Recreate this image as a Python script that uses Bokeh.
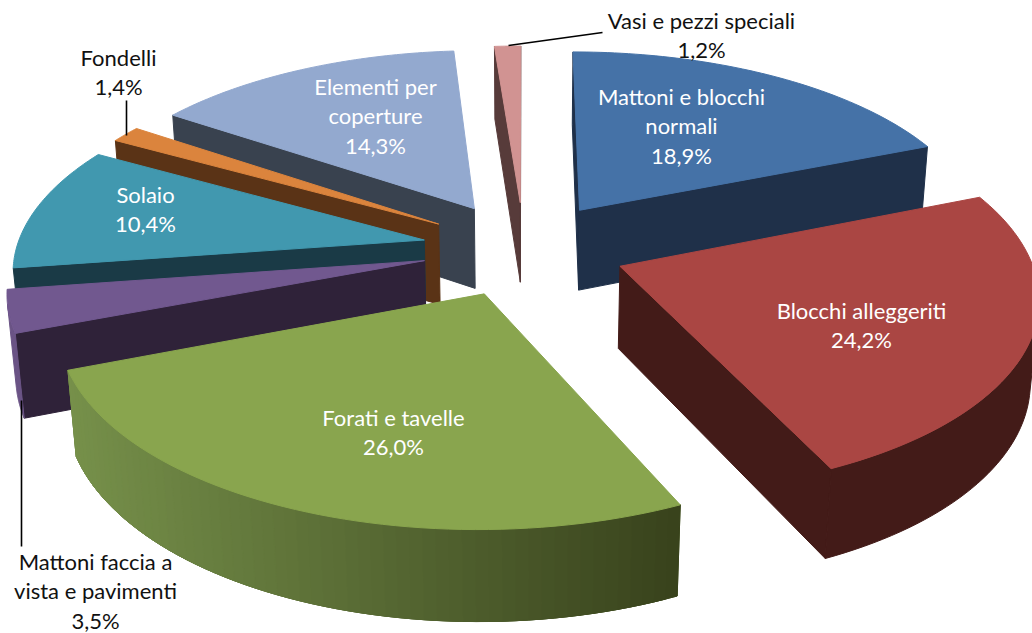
import numpy as np
from bokeh.plotting import figure
from bokeh.models import Range1d
from bokeh.core.properties import value
from bokeh.embed import file_html
from bokeh.resources import INLINE

# ---- data ----
categories = ["Mattoni e blocchi normali", "Blocchi alleggeriti", "Forati e tavelle",
              "Mattoni faccia a vista e pavimenti", "Solaio", "Fondelli",
              "Elementi per coperture", "Vasi e pezzi speciali"]
shares = [18.9, 24.2, 26.0, 3.5, 10.4, 1.4, 14.3, 1.2]
top_colors = ["#4572A7", "#AA4643", "#89A54E", "#71588F", "#4198AF", "#DB843D", "#93A9CF", "#D19392"]
wall_colors = ["#1F3049", "#431B18", "#5A6E35", "#2F2239", "#1A3A46", "#5A3316", "#39424F", "#573B3A"]
rim_left = ["#1F3049", "#431B18", "#76904A", "#6A5385", "#1A3A46", "#5A3316", "#39424F", "#573B3A"]
rim_right = ["#1F3049", "#431B18", "#38421C", "#6A5385", "#1A3A46", "#5A3316", "#39424F", "#573B3A"]

label_lines = [["Mattoni e blocchi", "normali", "18,9%"], ["Blocchi alleggeriti", "24,2%"],
               ["Forati e tavelle", "26,0%"], ["Mattoni faccia a", "vista e pavimenti", "3,5%"],
               ["Solaio", "10,4%"], ["Fondelli", "1,4%"], ["Elementi per", "coperture", "14,3%"],
               ["Vasi e pezzi speciali", "1,2%"]]
label_x = [681, 861, 393, 95, 145, 118, 375, 701]
label_y = [95.5, 309.5, 416.5, 560.5, 193.5, 56.5, 85.5, 19.5]
label_col = ["white", "white", "white", "#111111", "white", "#111111", "white", "#111111"]
leaders = [([21, 21], [400, 546]), ([126, 126], [100, 135]), ([508, 602], [45, 32])]

# ---- camera ----
CX, CY = 523.5, 248.0
FOCAL, DIST, PHI = 2607.0, 6.45, np.radians(28.0)
XSTRETCH = 1.009
EXPLODE, THICK = 0.25, 0.232
S, C = np.sin(PHI), np.cos(PHI)
CAM = np.array([0.0, DIST * C, DIST * S])


def project(x, y, z):
    x, y, z = np.asarray(x, float), np.asarray(y, float), np.asarray(z, float)
    d = DIST - (y * C + z * S)
    return CX + XSTRETCH * FOCAL * x / d, CY + FOCAL * (y * S - z * C) / d


def hex2rgb(h):
    return np.array([int(h[i:i + 2], 16) for i in (1, 3, 5)], float)


def mix(a, b, t):
    c = hex2rgb(a) * (1 - t) + hex2rgb(b) * t
    return "#%02x%02x%02x" % tuple(int(round(v)) for v in c)


xs, ys, fills = [], [], []


def add(px, py, color):
    xs.append(list(map(float, px)))
    ys.append(list(map(float, py)))
    fills.append(color)


def faces(p, n):
    return float(np.dot(n, CAM - p)) > 0


def wall(ox, oy, th, sign, color):
    ux, uy = np.sin(th), -np.cos(th)
    n = np.array([np.cos(th), np.sin(th), 0.0]) * sign
    mid = np.array([ox + ux / 2, oy + uy / 2, -THICK / 2])
    if faces(mid, n):
        px, py = project([ox, ox + ux, ox + ux, ox], [oy, oy + uy, oy + uy, oy], [0, 0, -THICK, -THICK])
        add(px, py, color)


total = sum(shares)
edges = np.concatenate([[0.0], np.cumsum(shares)]) / total * 2 * np.pi
mids = (edges[:-1] + edges[1:]) / 2
order = sorted(range(len(shares)), key=lambda i: -np.cos(mids[i]))

for i in order:
    a, b, m = edges[i], edges[i + 1], mids[i]
    ox, oy = EXPLODE * np.sin(m), -EXPLODE * np.cos(m)
    wall(ox, oy, a, -1, wall_colors[i])
    wall(ox, oy, b, 1, wall_colors[i])
    th = np.linspace(a, b, 61)
    rx, ry = ox + np.sin(th), oy - np.cos(th)
    sx0, _ = project(rx, ry, 0 * rx)
    lo, hi = sx0.min(), sx0.max()
    seen = [k for k in range(60)
            if faces(np.array([rx[k], ry[k], -THICK / 2]), np.array([np.sin(th[k]), -np.cos(th[k]), 0.0]))]
    if seen:
        # the whole visible rim as one piece first, so that no seams can show
        idx = list(range(seen[0], seen[-1] + 2))
        tx_, ty_ = project(rx[idx], ry[idx], 0 * rx[idx])
        bx_, by_ = project(rx[idx], ry[idx], 0 * rx[idx] - THICK)
        add(np.r_[tx_, bx_[::-1]], np.r_[ty_, by_[::-1]], mix(rim_left[i], rim_right[i], 0.5))
        if rim_left[i] != rim_right[i]:
            for k in seen:
                k2 = min(k + 2, 60)   # overlaps the next strip
                px, py = project([rx[k], rx[k2], rx[k2], rx[k]], [ry[k], ry[k2], ry[k2], ry[k]],
                                 [0, 0, -THICK, -THICK])
                t = ((sx0[k] + sx0[k + 1]) / 2 - lo) / max(hi - lo, 1e-6)
                add(px, py, mix(rim_left[i], rim_right[i], t))
    px, py = project(np.r_[ox, rx], np.r_[oy, ry], np.zeros(62))
    add(px, py, top_colors[i])

p = figure(width=1032, height=633, x_range=Range1d(0, 1032), y_range=Range1d(633, 0),
           output_backend="svg", toolbar_location=None, min_border=0,
           outline_line_color=None, background_fill_color="white", border_fill_color="white")
p.axis.visible = False
p.grid.visible = False
p.patches(xs, ys, fill_color=fills, line_color=fills, line_width=1.0)

for lx, ly in leaders:
    p.line(lx, ly, line_color="black", line_width=1.6)

LINE_H = 29.5
tx, ty, tt, tc = [], [], [], []
for lines, x0, y0, col in zip(label_lines, label_x, label_y, label_col):
    for j, s in enumerate(lines):
        tx.append(x0)
        ty.append(y0 + j * LINE_H)
        tt.append(s)
        tc.append(col)
p.text(tx, ty, text=tt, text_color=tc, text_font=value("Lato"), text_font_size="22px",
       text_align="center", text_baseline="middle")

open("out.html", "w").write(file_html(p, INLINE))
